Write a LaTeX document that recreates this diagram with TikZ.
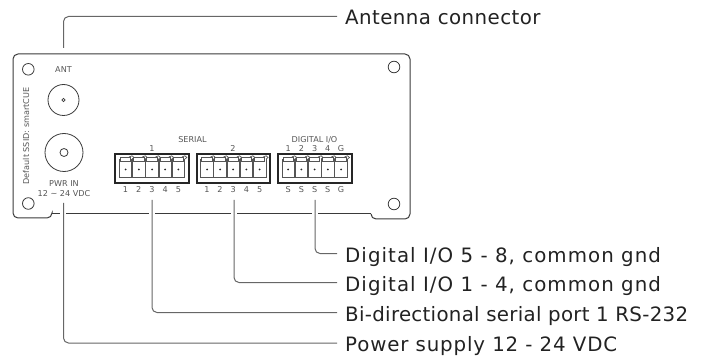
\documentclass[tikz,border=0pt]{standalone}
\usepackage{fontspec}
\setmainfont{DejaVu Sans}
\definecolor{leadc}{HTML}{666666}
\definecolor{boxc}{HTML}{3A3A3A}
\definecolor{txtc}{HTML}{222222}
\definecolor{smallc}{HTML}{555555}
\tikzset{
  x=1pt,y=-1pt,
  lead/.style={draw=leadc,line width=1pt,rounded corners=5pt,shorten >=8pt},
  lbl/.style={anchor=west,inner sep=0pt,text height=17pt,text depth=0pt,text=txtc,font=\fontsize{19.8}{22}\selectfont},
  tiny/.style={inner sep=0pt,text height=6pt,text depth=0pt,text=smallc,font=\fontsize{8.1}{9}\selectfont},
  hole/.style={draw=boxc,line width=.8pt},
  panel/.style={draw=boxc,line width=1pt},
  plug/.style={draw=black!85,line width=1.3pt},
  cell/.style={draw=smallc,line width=.7pt}
}
\newcommand{\cellat}[1]{%
  \draw[cell] (#1-6.3,159.5) -- (#1-6.3,177.5) -- (#1+6.3,177.5) -- (#1+6.3,159.5);
  \draw[cell] (#1-5.2,157) -- (#1-5.2,161) -- (#1+5.2,161) -- (#1+5.2,157) -- cycle;
  \draw[cell] (#1+3.5,157) -- (#1+6.5,155.8) -- (#1+8.5,157.5) -- (#1+6.5,159);
  \fill[black!85] (#1,169.5) circle (1pt);
}
\newcommand{\spaced}[2]{\addfontfeature{LetterSpace=#1}#2}
\begin{document}
\begin{tikzpicture}
\useasboundingbox (0,0) rectangle (704,358);
% panel
\draw[panel,rounded corners=5pt] (52,214) -- (52,218) -- (13,218) -- (13,54) -- (410,54) -- (410,219) -- (371,219) -- (371,214);
\draw[panel] (52,214) -- (60,214) (66,214) -- (149,214) (155,214) -- (231,214) (237,214) -- (312,214) (318,214) -- (371,214);
% holes
\draw[hole] (28.3,69.3) circle (5.8);
\draw[hole] (28.3,203.5) circle (5.8);
\draw[hole] (394,67) circle (5.8);
\draw[hole] (394,204) circle (5.8);
\draw[hole] (63.5,100) circle (15.5);
\draw[hole] (63.5,100) circle (1.6);
\draw[hole] (64,152.5) circle (19);
\draw[hole] (64,152.5) circle (4);
% plugs
\draw[plug] (115,154) rectangle (189,183);
\draw[plug] (197,154) rectangle (270,183);
\draw[plug] (278,154) rectangle (352,183);
\foreach \c in {125.5,138.8,152,165.2,178.4,207,220,233.2,246.4,259.6,288.2,301.4,314.6,327.8,341}{\cellat{\c}}
% small text
\node[tiny] (ant) at (63.5,70) {ANT};
\node[tiny,rotate=90] (ssid) at (26,136) {Default SSID: smartCUE};
\node[tiny] (pwr) at (64,184) {PWR IN};
\node[tiny] (volt) at (64,194) {12 \textasciitilde{} 24 VDC};
\node[tiny] (serial) at (192.5,140) {SERIAL};
\node[tiny] (dio) at (314.5,140) {DIGITAL I/O};
\node[tiny] (s1) at (152,149) {1};
\node[tiny] (s2) at (233,149) {2};
\foreach \c/\t [count=\i] in {125.5/1,138.8/2,152/3,165.2/4,178.4/5,207/1,220/2,233.2/3,246.4/4,259.6/5,288.2/S,301.4/S,314.6/S,327.8/S,341/G}{
  \node[tiny] (b\i) at (\c,189.5) {\t};
}
\foreach \c/\t [count=\i] in {288.2/1,301.4/2,314.6/3,327.8/4,341/G}{
  \node[tiny] (t\i) at (\c,149) {\t};
}
% labels
\node[lbl] (lant) at (345,16.5) {\spaced{2.2}{Antenna connector}};
\node[lbl] (ld58) at (345,253.5) {\spaced{5.3}{Digital I/O 5 - 8, common gnd}};
\node[lbl] (ld14) at (345,282.5) {\spaced{5.3}{Digital I/O 1 - 4, common gnd}};
\node[lbl] (lser) at (345,312.5) {\spaced{1.5}{Bi-directional serial port 1 RS-232}};
\node[lbl] (lpow) at (345,343) {\spaced{4.3}{Power supply 12 - 24 VDC}};
% leader ends
\coordinate (cant) at (63.5,48);
\coordinate (cd58) at (315,200);
\coordinate (cd14) at (234,200);
\coordinate (cser) at (152,200);
\coordinate (cpow) at (63.5,203);
\draw[lead] (cant) |- (lant.west);
\draw[lead] (cd58) |- (ld58.west);
\draw[lead] (cd14) |- (ld14.west);
\draw[lead] (cser) |- (lser.west);
\draw[lead] (cpow) |- (lpow.west);
\end{tikzpicture}
\end{document}
